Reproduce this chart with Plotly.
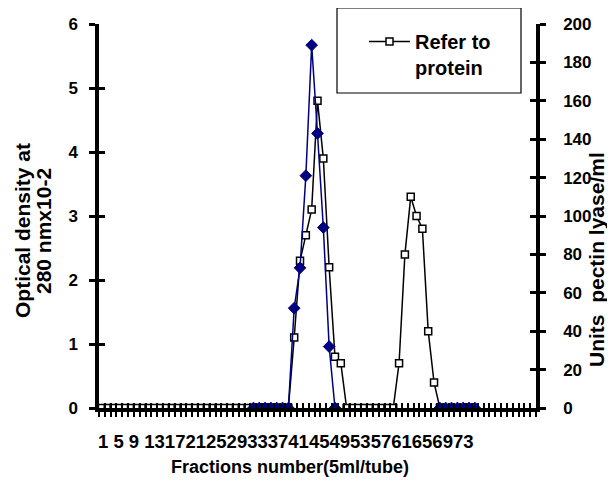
import plotly.graph_objects as go

# ---------------- data ----------------
fractions = list(range(1, 76))

# protein (optical density, left axis) for fractions 1..59
protein_od = ([0] * 33 +
              [1.1, 2.3, 2.7, 3.1, 4.8, 3.9, 2.2, 0.8, 0.7] +   # 34..42
              [0] * 9 +                                       # 43..51
              [0.7, 2.4, 3.3, 3.0, 2.8, 1.2, 0.4, 0])          # 52..59
protein_od = protein_od + [None] * (len(fractions) - len(protein_od))

# pectin lyase activity (units/ml, right axis) for fractions 27..65
lyase_units = ([None] * 26 +
               [0] * 7 +                                      # 27..33
               [52, 73, 121, 189, 143, 94, 32, 0] +           # 34..41
               [None] * 17 +                                  # 42..58
               [0] * 7)                                       # 59..65
lyase_units = lyase_units + [None] * (len(fractions) - len(lyase_units))

x_tick_labels = [str(v) for v in range(1, 74, 4)]
y_left_ticks = [0, 1, 2, 3, 4, 5, 6]
y_right_ticks = list(range(0, 201, 20))

legend_name = "Refer to<br>protein"
x_title = "Fractions number(5ml/tube)"
y_left_title_lines = ["Optical density at", "280 nmx10-2"]
y_right_title = "Units  pectin lyase/ml"

# ---------------- layout helpers ----------------
# the page adds an 8 px body margin, so the figure is made 8 px smaller
OFF = 8
W, H = 615 - OFF, 493 - OFF
L, R, T, B = 99, 536, 24, 408          # plot area in page pixels
FONT = "Liberation Sans, Arial, sans-serif"


def px(xp):
    return (xp - L) / (R - L)


def py(yp):
    return (B - yp) / (B - T)


fig = go.Figure()

fig.add_trace(go.Scatter(
    x=fractions, y=protein_od, name=legend_name, mode="lines+markers",
    line=dict(color="black", width=1.5),
    marker=dict(symbol="square", size=7, color="white",
                line=dict(color="black", width=1.5)),
    xaxis="x", yaxis="y", showlegend=True, connectgaps=False,
))
fig.add_trace(go.Scatter(
    x=fractions, y=lyase_units, name="pectin lyase", mode="lines+markers",
    line=dict(color="#000080", width=1.5),
    marker=dict(symbol="diamond", size=9, color="#000080",
                line=dict(color="#000080", width=1)),
    xaxis="x", yaxis="y2", showlegend=False, connectgaps=False,
))
# invisible helpers so the overlay axes (inner halves of cross ticks) are drawn
fig.add_trace(go.Scatter(x=[None], y=[None], xaxis="x2", yaxis="y3",
                         showlegend=False, hoverinfo="skip"))
fig.add_trace(go.Scatter(x=[None], y=[None], xaxis="x2", yaxis="y4",
                         showlegend=False, hoverinfo="skip"))

tickfont = dict(family=FONT, size=17, color="black", weight="bold")
xrange = [0.5, len(fractions) + 0.5]

fig.update_layout(
    width=W, height=H,
    margin=dict(l=L - OFF, r=W - (R - OFF), t=T - OFF, b=H - (B - OFF),
                autoexpand=False),
    paper_bgcolor="white", plot_bgcolor="white",
    font=dict(family=FONT, color="black"),
    xaxis=dict(range=xrange, showgrid=False, zeroline=False,
               showline=True, linecolor="black", linewidth=3.5,
               ticks="outside", ticklen=5, tickwidth=2, tickcolor="black",
               tick0=0.5, dtick=1, showticklabels=False),
    xaxis2=dict(range=xrange, overlaying="x", anchor="y", showgrid=False,
                zeroline=False, showline=False, side="bottom",
                ticks="inside", ticklen=5, tickwidth=2, tickcolor="black",
                tick0=0.5, dtick=1, showticklabels=False),
    yaxis=dict(range=[0, 6], showgrid=False, zeroline=False,
               showline=True, linecolor="black", linewidth=3.5,
               ticks="outside", ticklen=6, tickwidth=3, tickcolor="black",
               tickvals=y_left_ticks, tickfont=tickfont,
               ticklabelstandoff=8),
    yaxis2=dict(range=[0, 200], overlaying="y", side="right", anchor="x",
                showgrid=False, zeroline=False,
                showline=True, linecolor="black", linewidth=3.5,
                ticks="outside", ticklen=6, tickwidth=3, tickcolor="black",
                tickvals=y_right_ticks, tickfont=tickfont,
                ticklabelstandoff=14),
    yaxis3=dict(range=[0, 6], overlaying="y", side="left", anchor="x",
                showgrid=False, zeroline=False, showline=False,
                ticks="inside", ticklen=6, tickwidth=3, tickcolor="black",
                tickvals=y_left_ticks, showticklabels=False),
    yaxis4=dict(range=[0, 200], overlaying="y", side="right", anchor="x",
                showgrid=False, zeroline=False, showline=False,
                ticks="inside", ticklen=6, tickwidth=3, tickcolor="black",
                tickvals=y_right_ticks, showticklabels=False),
    showlegend=True,
    legend=dict(x=px(364), y=py(22), xanchor="left", yanchor="top",
                valign="top", itemwidth=41,
                bgcolor="rgba(0,0,0,0)", borderwidth=0,
                font=dict(family=FONT, size=20, color="black", weight="bold")),
)

# legend frame
fig.add_shape(type="rect", xref="paper", yref="paper",
              x0=px(337), x1=px(521), y0=py(93), y1=py(8),
              line=dict(color="black", width=1.2), fillcolor="rgba(0,0,0,0)",
              layer="below")

# category labels (crowded, as in the original)
xlabel_text = " ".join(x_tick_labels[:3]) + " " + "".join(x_tick_labels[3:])
fig.add_annotation(text=xlabel_text, xref="paper", yref="paper",
                   x=px(96), y=py(441), xanchor="left", yanchor="middle",
                   showarrow=False,
                   font=dict(family=FONT, size=18.5, color="black",
                             weight="bold"))
fig.add_annotation(text=x_title, xref="paper", yref="paper",
                   x=px(290), y=py(467), xanchor="center", yanchor="middle",
                   showarrow=False,
                   font=dict(family=FONT, size=18, color="black", weight="bold"))
for line_text, xpos in zip(y_left_title_lines, [22, 43]):
    fig.add_annotation(text=line_text, xref="paper", yref="paper",
                       x=px(xpos), y=py(231), xanchor="center",
                       yanchor="middle", textangle=-90, showarrow=False,
                       font=dict(family=FONT, size=21, color="black",
                                 weight="bold"))
fig.add_annotation(text=y_right_title, xref="paper", yref="paper",
                   x=px(597), y=py(260), xanchor="center", yanchor="middle",
                   textangle=-90, showarrow=False,
                   font=dict(family=FONT, size=21, color="black", weight="bold"))

fig.write_html("out.html")
